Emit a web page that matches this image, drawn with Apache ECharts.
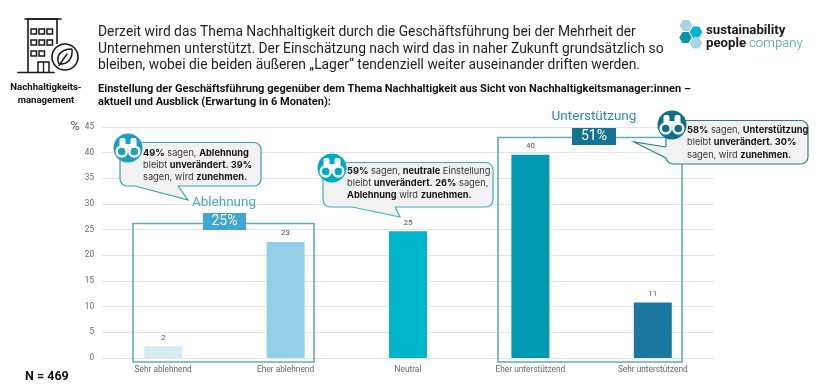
<!DOCTYPE html>
<html><head><meta charset="utf-8">
<style>html,body{margin:0;padding:0;background:#fff}#c{width:820px;height:390px}</style>
<script src="https://cdn.jsdelivr.net/npm/echarts@6/dist/echarts.min.js"></script></head>
<body><div id="c"></div>
<script>
const categories = ['Sehr ablehnend','Eher ablehnend','Neutral','Eher unterstützend','Sehr unterstützend'];
const values = [2.3,22.6,24.7,39.6,10.8];
const valueLabels = ['2','23','25','40','11'];
const barColors = ['#d5eaf3','#93cfe9','#00b6cd','#0099b4','#1c77a0'];
const titleLines = ['Derzeit wird das Thema Nachhaltigkeit durch die Geschäftsführung bei der Mehrheit der',
 'Unternehmen unterstützt. Der Einschätzung nach wird das in naher Zukunft grundsätzlich so',
 'bleiben, wobei die beiden äußeren „Lager“ tendenziell weiter auseinander driften werden.'];
const subLines = ['Einstellung der Geschäftsführung gegenüber dem Thema Nachhaltigkeit aus Sicht von Nachhaltigkeitsmanager:innen –',
 'aktuell und Ausblick (Erwartung in 6 Monaten):'];

const FONT = 'Roboto, "Noto Sans", sans-serif';
const NOTE = 'Inter, Roboto, sans-serif';
const g = [];
function txt(x,y,text,size,color,weight,align,extra){
  g.push({type:'text',x,y,z:30,style:Object.assign({text,fontFamily:FONT,fontSize:size,fontWeight:weight||'normal',fill:color,align:align||'left',verticalAlign:'middle'},extra||{})});
}
function rect(x,y,w,h,fill,stroke,lw,z,r){g.push({type:'rect',z:z||10,shape:{x,y,width:w,height:h,r:r||0},style:{fill:fill||'none',stroke:stroke||'none',lineWidth:lw||0}});}
function line(x1,y1,x2,y2,c,lw,z){g.push({type:'line',z:z||25,shape:{x1,y1,x2,y2},style:{stroke:c,lineWidth:lw,lineCap:'round'}});}
function circle(cx,cy,r,fill,stroke,lw,z){g.push({type:'circle',z:z||25,shape:{cx,cy,r},style:{fill:fill||'none',stroke:stroke||'none',lineWidth:lw||0}});}

titleLines.forEach((t,i)=>txt(98,[33,49.5,66][i],t,13.85,'#1f1f1f'));
subLines.forEach((t,i)=>txt(98,[89,102][i],t,11.05,'#111','700'));
txt(46,88,'Nachhaltigkeits-',9.6,'#111','700','center');
txt(46,101,'management',9.6,'#111','700','center');
txt(25,377,'N = 469',12.5,'#111','700');
txt(75,127,'%',13,'#666','normal','center');

/* building icon */
const k='#1a1a1a';
g.push({type:'polyline',z:25,shape:{points:[[28,73],[28,19],[57,19],[57,44]]},style:{stroke:k,lineWidth:1.6,fill:'none'}});
line(25,19,61,19,k,1.6);
line(18,72.5,54,72.5,k,1.6);
[[31,29],[39,29],[47,29],[31,40],[39,40],[47,40],[31,51],[39,51]].forEach(p=>rect(p[0],p[1],5.5,5,'none',k,1.5,25));
g.push({type:'polyline',z:25,shape:{points:[[38,72],[38,62],[49,62],[49,72]]},style:{stroke:k,lineWidth:1.5,fill:'none'}});
line(43.5,62,43.5,72,k,1.3);
circle(65,57,13,'#fff',k,1.6,26);
g.push({type:'bezierCurve',z:27,shape:{x1:59,y1:64,cpx1:55,cpy1:55,cpx2:62,cpy2:49,x2:72,y2:49},style:{stroke:k,lineWidth:1.5,fill:'none'}});
g.push({type:'bezierCurve',z:27,shape:{x1:72,y1:49,cpx1:73,cpy1:58,cpx2:68,cpy2:65,x2:59,y2:64},style:{stroke:k,lineWidth:1.5,fill:'none'}});
line(59,65.5,67,54,k,1.4,27);

/* logo */
function hex(cx,cy,r,fill){g.push({type:'polygon',z:25,shape:{points:[0,1,2,3,4,5].map(i=>[cx+r*Math.cos(i*Math.PI/3),cy+r*Math.sin(i*Math.PI/3)])},style:{fill,stroke:fill,lineWidth:1.5,lineJoin:'round'}});}
hex(686,25.5,5.4,'#a5d6e8');hex(685.5,37.5,5.4,'#0b93ad');hex(696,32,5.4,'#00b5cc');hex(696,43,5.4,'#a5d6e8');
txt(706,31,'sustainability',13.2,'#1a1a1a','700');
g.push({type:'text',x:706,y:44,z:30,style:{text:'{a|people} {b|company}',fontFamily:FONT,verticalAlign:'middle',rich:{a:{fontFamily:FONT,fontSize:13.2,fontWeight:'700',fill:'#1a1a1a'},b:{fontFamily:FONT,fontSize:13.2,fontWeight:'300',fill:'#3aa0b8'}}}});

/* group boxes */
rect(133,223.5,181,138.5,'none','#62acb9',1.6,12);
rect(498,137.5,184,224.5,'none','#62acb9',1.6,12);
rect(203,213,43,17,'#3fa7d1',null,0,14);
txt(224.5,221.5,'25%',14,'#fff','normal','center');
txt(224,203,'Ablehnung',13.5,'#4aa7c9','normal','center');
rect(572,128,44,17,'#14738f',null,0,14);
txt(594,136.5,'51%',14,'#fff','normal','center');
txt(594,117,'Unterstützung',13.5,'#2b8ea3','normal','center');

/* callouts */
function callout(x0,y0,x1,y1,tail,c,textX,textYs,lines){
  rect(x0,y0,x1-x0,y1-y0,'#f1f1f1',c,1.2,20,7);
  const pts = tail.side==='bottom'
    ? [[tail.a,y1],[tail.tx,tail.ty],[tail.b,y1]]
    : [[x0,tail.a],[tail.tx,tail.ty],[x0,tail.b]];
  g.push({type:'polygon',z:21,shape:{points:pts},style:{fill:'#f1f1f1',stroke:'none'}});
  g.push({type:'polygon',z:21,shape:{points:tail.side==='bottom'
    ?[[tail.a,y1-1.5],[tail.b,y1-1.5],[tail.b,y1+0.8],[tail.a,y1+0.8]]
    :[[x0-0.8,tail.a],[x0+1.5,tail.a],[x0+1.5,tail.b],[x0-0.8,tail.b]]},style:{fill:'#f1f1f1',stroke:'none'}});
  g.push({type:'polyline',z:22,shape:{points:pts},style:{fill:'none',stroke:c,lineWidth:1.2}});
  lines.forEach((t,i)=>{
    g.push({type:'text',x:textX,y:textYs[i],z:30,style:{text:t,fontFamily:NOTE,fontSize:9.25,verticalAlign:'middle',
      rich:{b:{fontFamily:NOTE,fontSize:9.25,fontWeight:'700',fill:'#111'},n:{fontFamily:NOTE,fontSize:9.25,fill:'#333'}}}});
  });
}
function binoc(cx,cy,C){
  circle(cx,cy,14.5,C,null,0,26);
  rect(cx-8.5,cy-10,6,10,'#fff',null,0,27,2);
  rect(cx+2.5,cy-10,6,10,'#fff',null,0,27,2);
  rect(cx-3,cy-4,6,6,'#fff',null,0,27);
  circle(cx-6.3,cy+3.5,6.2,'#fff',null,0,27);
  circle(cx+6.3,cy+3.5,6.2,'#fff',null,0,27);
  circle(cx-6.3,cy+3.5,3.8,C,null,0,28);
  circle(cx+6.3,cy+3.5,3.8,C,null,0,28);
}
callout(120,142.5,261,186,{side:'bottom',a:135,b:178,tx:188,ty:200},'#3b9fb1',143,[153,165,177],
 ['{b|49%} {n|sagen,} {b|Ablehnung}','{n|bleibt} {b|unverändert. 39%}','{n|sagen, wird} {b|zunehmen.}']);
binoc(128,148,'#1f9ec4');
callout(323,162.5,493,207,{side:'bottom',a:352,b:395,tx:400,ty:217},'#3bb0bf',347,[171,183,195],
 ['{b|59%} {n|sagen,} {b|neutrale} {n|Einstellung}','{n|bleibt} {b|unverändert.} {b|26%} {n|sagen,}','{b|Ablehnung} {n|wird} {b|zunehmen.}']);
binoc(332,168,'#00aac5');
callout(666,120.5,808,164,{side:'left',a:147,b:158,tx:634,ty:142},'#2e7f95',687,[130,142,155],
 ['{b|58%} {n|sagen,} {b|Unterstützung}','{n|bleibt} {b|unverändert. 30%}','{n|sagen, wird} {b|zunehmen.}']);
binoc(672,125,'#0f6f8c');

const chart=echarts.init(document.getElementById('c'),null,{renderer:'canvas'});
chart.setOption({
  animation:false,
  grid:{left:102,right:106,top:127,bottom:32,containLabel:false},
  xAxis:{type:'category',data:categories,axisLine:{show:false},axisTick:{show:false},
    axisLabel:{fontFamily:FONT,fontSize:8.3,color:'#666',margin:8,interval:0}},
  yAxis:{type:'value',min:0,max:45,interval:5,axisLine:{show:false},axisTick:{show:false},
    axisLabel:{fontFamily:FONT,fontSize:8.2,color:'#666',margin:8},
    splitLine:{lineStyle:{color:'#e4e4e4',width:1}}},
  series:[{type:'bar',barWidth:38,
    data:values.map((v,i)=>({value:v,itemStyle:{color:barColors[i]}})),
    label:{show:true,position:'top',distance:4.5,fontFamily:FONT,fontSize:8,color:'#555',formatter:p=>valueLabels[p.dataIndex]}}],
  graphic:{elements:g}
});
</script></body></html>
